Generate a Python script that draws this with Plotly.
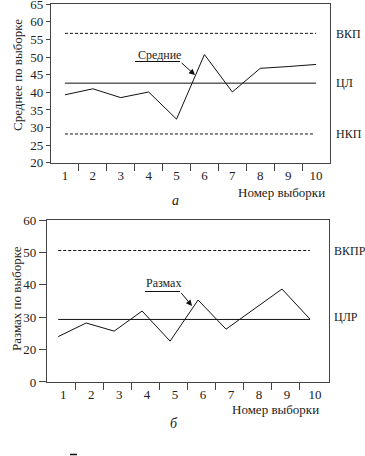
import plotly.graph_objects as go

# ---------------- data ----------------
samples = list(range(1, 11))
sample_labels = [str(s) for s in samples]

means = [39.3, 41.0, 38.5, 40.1, 32.4, 50.7, 40.1, 46.8, 47.3, 47.9]
ucl_mean = 56.7
cl_mean = 42.6
lcl_mean = 28.2
mean_ticks = [20, 25, 30, 35, 40, 45, 50, 55, 60, 65]

ranges_ = [24.0, 28.2, 25.7, 31.9, 22.6, 35.3, 26.3, 32.5, 38.7, 29.4]
ucl_range = 50.6
cl_range = 29.3
range_tickvals = [10, 20, 30, 40, 50, 60]
range_ticktext = ["0", "20", "30", "40", "50", "60"]

# ---------------- styling helpers ----------------
W, H = 365, 456
FONT = "Liberation Serif"
FS = 12
TXT = "#222222"
AX = "#444444"


def px(x):
    return x / W


def py(y):
    return 1 - y / H


fig = go.Figure()

# top chart (x, y)
fig.add_trace(go.Scatter(x=samples, y=means, mode="lines",
                         line=dict(color="#111111", width=1), xaxis="x", yaxis="y"))
fig.add_trace(go.Scatter(x=[samples[0], samples[-1]], y=[ucl_mean, ucl_mean], mode="lines",
                         line=dict(color="#111111", width=1, dash="3px,2px"), xaxis="x", yaxis="y"))
fig.add_trace(go.Scatter(x=[samples[0], samples[-1]], y=[cl_mean, cl_mean], mode="lines",
                         line=dict(color="#111111", width=1), xaxis="x", yaxis="y"))
fig.add_trace(go.Scatter(x=[samples[0], samples[-1] - 0.1], y=[lcl_mean, lcl_mean], mode="lines",
                         line=dict(color="#111111", width=1, dash="3px,2px"), xaxis="x", yaxis="y"))

# bottom chart (x2, y2)
fig.add_trace(go.Scatter(x=samples, y=ranges_, mode="lines",
                         line=dict(color="#111111", width=1), xaxis="x2", yaxis="y2"))
fig.add_trace(go.Scatter(x=[samples[0], samples[-1]], y=[ucl_range, ucl_range], mode="lines",
                         line=dict(color="#111111", width=1, dash="3px,2px"), xaxis="x2", yaxis="y2"))
fig.add_trace(go.Scatter(x=[samples[0], samples[-1]], y=[cl_range, cl_range], mode="lines",
                         line=dict(color="#111111", width=1), xaxis="x2", yaxis="y2"))

tickfont = dict(family=FONT, size=FS + 1, color=TXT)

common_x = dict(showline=True, linecolor=AX, linewidth=1.3, mirror=True, showgrid=False,
                zeroline=False, tickfont=tickfont, automargin=False,
                ticks="outside", ticklen=0, tickcolor="rgba(0,0,0,0)",
                ticklabeloverflow="allow")
common_y = dict(showline=True, linecolor=AX, linewidth=1.3, mirror=True, showgrid=False,
                zeroline=False, tickfont=tickfont, automargin=False,
                ticks="outside", tickcolor=AX, tickwidth=1.3, ticklabeloverflow="allow")

fig.update_layout(
    width=W, height=H,
    margin=dict(l=0, r=0, t=0, b=0),
    paper_bgcolor="white", plot_bgcolor="white",
    showlegend=False,
    template="none",
    font=dict(family=FONT, size=FS, color=TXT),
    xaxis=dict(domain=[px(51), px(330)], anchor="y", range=[0.5, 10.5],
               tickvals=samples, ticktext=sample_labels,
               minor=dict(tickvals=[s + 0.5 for s in samples[:-1]], ticks="outside",
                          ticklen=7, tickcolor=AX, tickwidth=1.3, showgrid=False),
               **common_x),
    yaxis=dict(domain=[py(163), py(4)], anchor="x", range=[19.98, 65.02],
               tickvals=mean_ticks, ticklen=4, **common_y),
    xaxis2=dict(domain=[px(47), px(329)], anchor="y2", range=[0.6, 10.68],
                tickvals=samples, ticktext=sample_labels, ticklabelshift=5,
                minor=dict(tickvals=[s + 0.62 for s in samples[:-1]], ticks="outside",
                           ticklen=7, tickcolor=AX, tickwidth=1.3, showgrid=False),
                **common_x),
    yaxis2=dict(domain=[py(382), py(220)], anchor="x2", range=[9.98, 60.02],
                tickvals=range_tickvals, ticktext=range_ticktext, ticklen=7, **common_y),
)

ann = []


def text(x, y, s, size=FS, angle=0, italic=False, xanchor="center"):
    ann.append(dict(xref="paper", yref="paper", x=px(x), y=py(y), text=s,
                    showarrow=False, textangle=angle, xanchor=xanchor, yanchor="middle",
                    font=dict(family=FONT, size=size, color=TXT,
                              style="italic" if italic else "normal")))


# top chart texts
text(17, 75, "Среднее по выборке", size=13, angle=-90)
text(334, 34, "ВКП", xanchor="left")
text(334, 83, "ЦЛ", xanchor="left")
text(334, 134, "НКП", xanchor="left")
text(159, 55, "Средние")
text(281, 192, "Номер выборки", size=13)
text(175, 200, "а", size=14, italic=True)

# bottom chart texts
text(16, 299, "Размах по выборке", size=13, angle=-90)
text(332, 251, "ВКПР", xanchor="left")
text(332, 317, "ЦЛР", xanchor="left")
text(163, 283, "Размах")
text(275, 409, "Номер выборки", size=13)
text(174, 423, "б", size=14, italic=True)

# leader arrows
ann.append(dict(xref="paper", yref="paper", x=px(195), y=py(75), text="",
                showarrow=True, ax=-15, ay=-13.5, arrowhead=2, arrowsize=1.2,
                arrowwidth=1, arrowcolor="#111111"))
ann.append(dict(xref="paper", yref="paper", x=px(192), y=py(306), text="",
                showarrow=True, ax=-12, ay=-14.5, arrowhead=2, arrowsize=1.2,
                arrowwidth=1, arrowcolor="#111111"))

shapes = [
    dict(type="line", xref="paper", yref="paper", x0=px(135), x1=px(180), y0=py(61.5), y1=py(61.5),
         line=dict(color="#111111", width=1)),
    dict(type="line", xref="paper", yref="paper", x0=px(145), x1=px(180), y0=py(291.5), y1=py(291.5),
         line=dict(color="#111111", width=1)),
    # cut-off overline remnant at the bottom edge
    dict(type="line", xref="paper", yref="paper", x0=px(70), x1=px(77), y0=py(454.5), y1=py(454.5),
         line=dict(color="#111111", width=1.5)),
]

fig.update_layout(annotations=ann, shapes=shapes)

fig.write_html("out.html", config={"displayModeBar": False},
               post_script="document.body.style.margin='0';document.body.style.overflow='hidden';")
